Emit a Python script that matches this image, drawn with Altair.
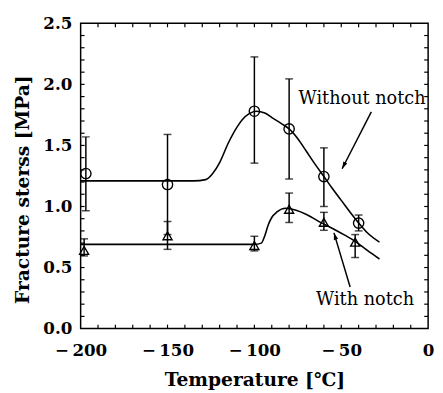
import altair as alt
import pandas as pd

# ---- data ----
temps_without = [-197, -150, -100, -80, -60, -40]
stress_without = [1.27, 1.18, 1.78, 1.635, 1.245, 0.864]
hi_without = [1.57, 1.59, 2.225, 2.045, 1.48, 0.93]
lo_without = [0.965, 0.77, 1.355, 1.225, 1.0, 0.80]

temps_with = [-198, -150, -100, -80, -60, -42]
stress_with = [0.64, 0.76, 0.68, 0.977, 0.87, 0.708]
hi_with = [0.735, 0.877, 0.756, 1.11, 0.952, 0.77]
lo_with = [0.595, 0.649, 0.636, 0.869, 0.805, 0.582]

curve_without_x = [-200, -135, -128, -124, -120, -115, -110, -107, -103, -99, -94, -89,
                   -84, -80, -75, -70, -65, -60, -55, -50, -45, -40, -35, -28]
curve_without_y = [1.21, 1.21, 1.22, 1.27, 1.36, 1.52, 1.65, 1.71, 1.76, 1.78, 1.765, 1.72,
                   1.675, 1.635, 1.555, 1.45, 1.345, 1.245, 1.145, 1.05, 0.955, 0.865, 0.785, 0.708]

curve_with_x = [-200, -100, -96, -94, -92, -90, -87, -82, -76, -70, -62, -55, -48, -42, -35, -28]
curve_with_y = [0.69, 0.69, 0.70, 0.76, 0.85, 0.91, 0.955, 0.985, 0.97, 0.935, 0.87, 0.82,
                0.765, 0.715, 0.64, 0.57]

labels_text = ["Without notch", "With notch"]
labels_x = [-38.0, -36.3]
labels_y = [1.883, 0.233]

arrow_x_start = [-32.7, -44.9]
arrow_y_start = [1.775, 0.341]
arrow_x_tip = [-49.5, -54.2]
arrow_y_tip = [1.309, 0.784]
arrow_angle = [207, 343]

x_minor = list(range(-190, 0, 10))
y_minor = [round(0.1 * i, 1) for i in range(1, 25)]

W, H = 354, 311
FONT = "DejaVu Serif"

xs = alt.Scale(domain=[-200, 0], nice=False, zero=False)
ys = alt.Scale(domain=[0, 2.5], nice=False, zero=False)

pts = pd.DataFrame({
    "t": temps_without + temps_with,
    "s": stress_without + stress_with,
    "hi": hi_without + hi_with,
    "lo": lo_without + lo_with,
    "series": ["without"] * len(temps_without) + ["with"] * len(temps_with),
})
caps = pd.DataFrame({
    "t": temps_without + temps_without + temps_with + temps_with,
    "v": hi_without + lo_without + hi_with + lo_with,
})
curves = pd.DataFrame({
    "t": curve_without_x + curve_with_x,
    "s": curve_without_y + curve_with_y,
    "series": ["without"] * len(curve_without_x) + ["with"] * len(curve_with_x),
})
labels = pd.DataFrame({"text": labels_text, "x": labels_x, "y": labels_y})
arrows = pd.DataFrame({"x": arrow_x_start, "y": arrow_y_start,
                       "x2": arrow_x_tip, "y2": arrow_y_tip, "angle": arrow_angle})
xt = pd.DataFrame({"t": x_minor})
yt = pd.DataFrame({"v": y_minor})

xaxis = alt.Axis(title="Temperature [℃]", values=[-200, -150, -100, -50, 0],
                 labelExpr="datum.value < 0 ? '\u2212\u2009' + abs(datum.value) : '0'",
                 ticks=False, tickSize=0, grid=False, domain=False,
                 labelFont=FONT, labelFontWeight="bold", labelFontSize=17, labelColor="black",
                 labelPadding=14, labelFlush=False,
                 titleFont=FONT, titleFontWeight="bold", titleFontSize=19, titleColor="black",
                 titleBaseline="alphabetic", titleY=58)
yaxis = alt.Axis(title="Fracture sterss [MPa]", values=[0, 0.5, 1.0, 1.5, 2.0, 2.5], format=".1f",
                 ticks=False, tickSize=0, grid=False, domain=False,
                 labelFont=FONT, labelFontWeight="bold", labelFontSize=17, labelColor="black",
                 labelPadding=9, labelFlush=False,
                 titleFont=FONT, titleFontWeight="bold", titleFontSize=19, titleColor="black",
                 titleBaseline="middle", titleX=-59, titleY=169)

base_x = alt.X("t:Q", scale=xs, axis=xaxis)

curve_layer = alt.Chart(curves).mark_line(color="black", strokeWidth=1.6, interpolate="monotone").encode(
    x=base_x, y=alt.Y("s:Q", scale=ys, axis=yaxis), detail="series:N")

err_layer = alt.Chart(pts).mark_rule(color="black", strokeWidth=1.5).encode(
    x=alt.X("t:Q", scale=xs), y=alt.Y("lo:Q", scale=ys), y2="hi:Q")

cap_layer = alt.Chart(caps).mark_tick(color="black", orient="horizontal", size=8, thickness=1.5).encode(
    x=alt.X("t:Q", scale=xs), y=alt.Y("v:Q", scale=ys))

circ_layer = alt.Chart(pts[pts.series == "without"]).mark_point(
    shape="circle", filled=False, color="black", strokeWidth=1.4, size=110, opacity=1).encode(
    x=alt.X("t:Q", scale=xs), y=alt.Y("s:Q", scale=ys))

tri_layer = alt.Chart(pts[pts.series == "with"]).mark_point(
    shape="triangle-up", filled=False, color="black", strokeWidth=1.4, size=85, opacity=1).encode(
    x=alt.X("t:Q", scale=xs), y=alt.Y("s:Q", scale=ys))

text_layer = alt.Chart(labels).mark_text(font=FONT, fontSize=18, color="black", align="center",
                                         baseline="middle").encode(
    x=alt.X("x:Q", scale=xs), y=alt.Y("y:Q", scale=ys), text="text:N")

arrow_line = alt.Chart(arrows).mark_rule(color="black", strokeWidth=1.5).encode(
    x=alt.X("x:Q", scale=xs), y=alt.Y("y:Q", scale=ys), x2="x2:Q", y2="y2:Q")

arrow_head = alt.Chart(arrows).mark_point(
    shape="M0,0 L0.32,1 L-0.32,1 Z", filled=True, color="black", size=200, opacity=1, strokeWidth=0).encode(
    x=alt.X("x2:Q", scale=xs), y=alt.Y("y2:Q", scale=ys), angle=alt.Angle("angle:Q", scale=None))

tick_b = alt.Chart(xt).mark_rule(color="black", strokeWidth=1.2).encode(
    x=alt.X("t:Q", scale=xs), y=alt.value(H), y2=alt.value(H - 4))
tick_t = alt.Chart(xt).mark_rule(color="black", strokeWidth=1.2).encode(
    x=alt.X("t:Q", scale=xs), y=alt.value(0), y2=alt.value(4))
tick_l = alt.Chart(yt).mark_rule(color="black", strokeWidth=1.2).encode(
    y=alt.Y("v:Q", scale=ys), x=alt.value(0), x2=alt.value(4))
tick_r = alt.Chart(yt).mark_rule(color="black", strokeWidth=1.2).encode(
    y=alt.Y("v:Q", scale=ys), x=alt.value(W), x2=alt.value(W - 4))

chart = alt.layer(
    curve_layer, err_layer, cap_layer, circ_layer, tri_layer, text_layer,
    arrow_line, arrow_head, tick_b, tick_t, tick_l, tick_r
).properties(
    width=W, height=H,
    autosize=alt.AutoSizeParams(type="none"),
    padding={"left": 74, "top": 12, "right": 7, "bottom": 62},
    background="white",
).configure_view(stroke="black", strokeWidth=1.5)

chart.save("out.html", embed_options={"renderer": "svg", "actions": False})
